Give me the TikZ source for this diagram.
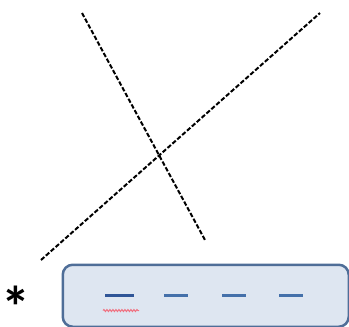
\documentclass[tikz,border=0pt]{standalone}
\usepackage{fontspec}
\setmainfont{Carlito}
\usetikzlibrary{decorations.pathmorphing}
\definecolor{boxfill}{HTML}{DEE6F1}
\definecolor{boxline}{HTML}{4F6E98}
\definecolor{dashdark}{HTML}{2F5597}
\definecolor{dashlight}{HTML}{4470AA}
\definecolor{wavy}{HTML}{F07080}
\tikzset{
  dline/.style={draw=black, line width=2pt, dash pattern=on 4.5pt off 2pt},
  blank/.style={line width=2.4pt, draw=dashlight},
}
\begin{document}
\begin{tikzpicture}[x=1pt,y=-1pt]
\useasboundingbox (0,0) rectangle (349,327);
\coordinate (a1) at (82,13);
\coordinate (a2) at (205,240);
\coordinate (b1) at (41,260);
\coordinate (b2) at (320,13);
\draw[dline] (a1) -- (a2);
\draw[dline] (b1) -- (b2);
\node[draw=boxline, fill=boxfill, line width=2.5pt, rounded corners=10pt,
      minimum width=286pt, minimum height=62pt, inner sep=0pt, anchor=north west]
      (box) at (61.5,263.5) {};
\node[font=\fontsize{58}{58}\selectfont\bfseries, inner sep=0pt, anchor=north] (star) at (16,286) {*};
\coordinate (d1s) at (105,295.5); \coordinate (d1e) at (134,295.5);
\coordinate (d2s) at (164,295.5); \coordinate (d2e) at (188,295.5);
\coordinate (d3s) at (222,295.5); \coordinate (d3e) at (246,295.5);
\coordinate (d4s) at (279,295.5); \coordinate (d4e) at (303,295.5);
\draw[line width=3.2pt, draw=dashdark] (d1s) -- (d1e);
\draw[blank] (d2s) -- (d2e);
\draw[blank] (d3s) -- (d3e);
\draw[blank] (d4s) -- (d4e);
\coordinate (w1) at (103,310.5); \coordinate (w2) at (139,310.5);
\draw[wavy, line width=1pt, decorate, decoration={snake, amplitude=1pt, segment length=3pt}] (w1) -- (w2);
\end{tikzpicture}
\end{document}
